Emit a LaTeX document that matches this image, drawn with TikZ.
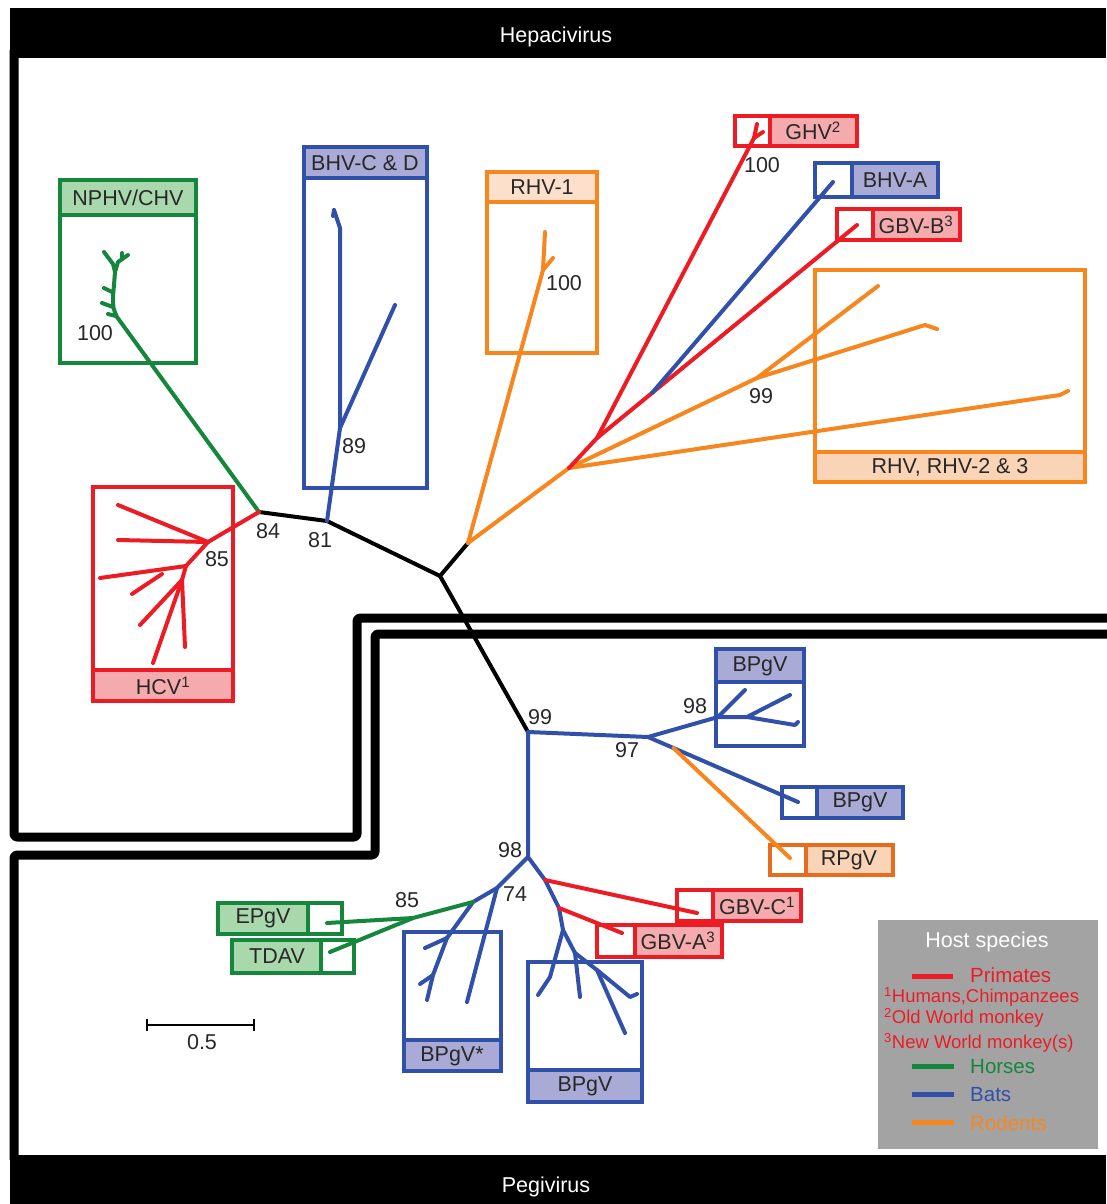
\documentclass[tikz,border=0pt]{standalone}
\usepackage{fontspec}
\setmainfont{Liberation Sans}
\usetikzlibrary{calc}
\definecolor{cR}{RGB}{237,28,36}
\definecolor{cG}{RGB}{20,135,60}
\definecolor{cB}{RGB}{48,80,170}
\definecolor{cO}{RGB}{247,134,31}
\definecolor{cOd}{RGB}{232,108,30}
\definecolor{fR}{RGB}{245,170,173}
\definecolor{fG}{RGB}{168,216,172}
\definecolor{fB}{RGB}{170,170,214}
\definecolor{fO}{RGB}{250,212,182}
\definecolor{fOl}{RGB}{252,224,204}
\definecolor{tx}{RGB}{40,40,40}
\definecolor{lg}{RGB}{163,163,163}
\tikzset{
  tr/.style={line width=4pt,line cap=round,line join=round},
  bx/.style={line width=3.5pt},
  fr/.style={line width=9pt,line join=round,rounded corners=3pt},
  lbl/.style={font=\fontsize{21.5}{24}\selectfont,text=tx,inner sep=0pt},
  ttl/.style={font=\fontsize{21.5}{24}\selectfont,text=white,inner sep=0pt},
  lgt/.style={font=\fontsize{20.5}{24}\selectfont,inner sep=0pt,anchor=west},
  lgs/.style={font=\fontsize{18.5}{22}\selectfont,inner sep=0pt,anchor=west,text=cR},
}
\begin{document}
\begin{tikzpicture}[x=1pt,y=-1pt]
\useasboundingbox (0,0) rectangle (1106,1204);
\fill[white] (0,0) rectangle (1106,1204);
% ---- frames
\fill[black] (10,8) rectangle (1106,58);
\node[ttl] (hep) at (556,37) {Hepacivirus};
\fill[black] (10,1155) rectangle (1106,1204);
\node[ttl] (peg) at (546,1187) {Pegivirus};
\draw[fr] (14,50) -- (14,837) -- (357,837) -- (357,618) -- (1112,618);
\draw[fr] (1112,634) -- (375,634) -- (375,855) -- (14,855) -- (14,1160);

% ---- boxes with header (top or bottom)
\fill[fG] (60,180) rectangle (196,215);
\draw[bx,cG] (60,180) rectangle (196,363);
\draw[bx,cG] (60,215) -- (196,215);
\node[lbl] (tNPHV) at (128,198) {NPHV/CHV};
\fill[fB] (304,147) rectangle (427,178);
\draw[bx,cB] (304,147) rectangle (427,488);
\draw[bx,cB] (304,178) -- (427,178);
\node[lbl] (tBHVCD) at (365,163) {BHV-C \& D};
\fill[fOl] (487,172) rectangle (597,202);
\draw[bx,cO] (487,172) rectangle (597,353);
\draw[bx,cO] (487,202) -- (597,202);
\node[lbl] (tRHV1) at (542,187) {RHV-1};
\fill[fR] (93,670) rectangle (233,701);
\draw[bx,cR] (93,487) rectangle (233,701);
\draw[bx,cR] (93,670) -- (233,670);
\node[lbl] (tHCV) at (163,686) {HCV\textsuperscript{1}};
\fill[fO] (815,452) rectangle (1085,482);
\draw[bx,cO] (815,270) rectangle (1085,482);
\draw[bx,cO] (815,452) -- (1085,452);
\node[lbl] (tRHV23) at (950,467) {RHV, RHV-2 \& 3};
\fill[fB] (716,649) rectangle (804,682);
\draw[bx,cB] (716,649) rectangle (804,746);
\draw[bx,cB] (716,682) -- (804,682);
\node[lbl] (tBP1) at (760,666) {BPgV};
\fill[fB] (404,1040) rectangle (501,1071);
\draw[bx,cB] (404,932) rectangle (501,1071);
\draw[bx,cB] (404,1040) -- (501,1040);
\node[lbl] (tBPs) at (452,1056) {BPgV*};
\fill[fB] (528,1070) rectangle (642,1102);
\draw[bx,cB] (528,962) rectangle (642,1102);
\draw[bx,cB] (528,1070) -- (642,1070);
\node[lbl] (tBP3) at (585,1086) {BPgV};

% ---- boxes with side label
\fill[fR] (770,116) rectangle (857,146);
\draw[bx,cR] (735,116) rectangle (857,146);
\draw[bx,cR] (770,116) -- (770,146);
\node[lbl] (tGHV) at (813,131) {GHV\textsuperscript{2}};
\fill[fB] (852,163) rectangle (938,197);
\draw[bx,cB] (815,163) rectangle (938,197);
\draw[bx,cB] (852,163) -- (852,197);
\node[lbl] (tBHVA) at (895,180) {BHV-A};
\fill[fR] (873,209) rectangle (960,240);
\draw[bx,cR] (837,209) rectangle (960,240);
\draw[bx,cR] (873,209) -- (873,240);
\node[lbl] (tGBVB) at (916,225) {GBV-B\textsuperscript{3}};
\fill[fB] (817,787) rectangle (903,818);
\draw[bx,cB] (782,787) rectangle (903,818);
\draw[bx,cB] (817,787) -- (817,818);
\node[lbl] (tBP2) at (860,802) {BPgV};
\fill[fO] (806,845) rectangle (893,875);
\draw[bx,cOd] (770,845) rectangle (893,875);
\draw[bx,cOd] (806,845) -- (806,875);
\node[lbl] (tRPgV) at (849,860) {RPgV};
\fill[fR] (713,890) rectangle (801,921);
\draw[bx,cR] (677,890) rectangle (801,921);
\draw[bx,cR] (713,890) -- (713,921);
\node[lbl] (tGBVC) at (757,906) {GBV-C\textsuperscript{1}};
\fill[fR] (635,925) rectangle (722,957);
\draw[bx,cR] (597,925) rectangle (722,957);
\draw[bx,cR] (635,925) -- (635,957);
\node[lbl] (tGBVA) at (678,941) {GBV-A\textsuperscript{3}};
\fill[fG] (218,903) rectangle (308,934);
\draw[bx,cG] (218,903) rectangle (342,934);
\draw[bx,cG] (308,903) -- (308,934);
\node[lbl] (tEPgV) at (263,918) {EPgV};
\fill[fG] (232,940) rectangle (321,973);
\draw[bx,cG] (232,940) rectangle (354,973);
\draw[bx,cG] (321,940) -- (321,973);
\node[lbl] (tTDAV) at (277,956) {TDAV};

% ---- tree coordinates: Hepacivirus
\coordinate (C) at (440,576);
\coordinate (Ch) at (468,543);
\coordinate (n81) at (327,521);
\coordinate (n84) at (259,512);
\coordinate (g1) at (117,317);
\coordinate (g2) at (113,296);
\coordinate (g3) at (115,272);
\coordinate (g4) at (113,264);
\coordinate (g5) at (104,252);
\coordinate (g6) at (118,262);
\coordinate (g7) at (128,255);
\coordinate (g8) at (122,259);
\coordinate (g9) at (122,253);
\coordinate (gt1) at (104,288);
\coordinate (gt1s) at (112,292);
\coordinate (gt2) at (102,303);
\coordinate (gt2s) at (113,307);
\coordinate (gt3) at (108,314);
\coordinate (gt3s) at (116,316);
\coordinate (h1) at (208,542);
\coordinate (h2) at (186,566);
\coordinate (h2b) at (162,574);
\coordinate (h3) at (182,580);
\coordinate (hA) at (118,505);
\coordinate (hB) at (118,540);
\coordinate (hC) at (100,578);
\coordinate (hD) at (132,594);
\coordinate (hE) at (140,625);
\coordinate (hF) at (185,647);
\coordinate (hG) at (153,663);
\coordinate (b89) at (340,428);
\coordinate (bv1) at (340,228);
\coordinate (bv2) at (334,210);
\coordinate (bv3) at (333,216);
\coordinate (bv4) at (395,305);
\coordinate (r1) at (543,270);
\coordinate (r2) at (545,232);
\coordinate (r3) at (553,258);
\coordinate (n0) at (569,468);
\coordinate (R1) at (597,438);
\coordinate (gh) at (754,138);
\coordinate (gh1) at (757,124);
\coordinate (gh2) at (763,132);
\coordinate (R2) at (652,393);
\coordinate (bA) at (833,182);
\coordinate (gB) at (857,225);
\coordinate (o99) at (757,378);
\coordinate (oa) at (878,286);
\coordinate (ob) at (925,325);
\coordinate (ob2) at (937,329);
\coordinate (oc) at (1060,395);
\coordinate (oc2) at (1068,391);

% ---- Pegivirus coordinates
\coordinate (p99) at (528,732);
\coordinate (p97) at (648,737);
\coordinate (p98) at (718,717);
\coordinate (pq) at (747,717);
\coordinate (pq1) at (745,690);
\coordinate (pq2) at (790,695);
\coordinate (pq3) at (795,725);
\coordinate (pq4) at (798,722);
\coordinate (bp2) at (798,802);
\coordinate (po) at ($(p97)!0.17!(bp2)$);
\coordinate (rp) at (790,858);
\coordinate (p98b) at (528,857);
\coordinate (n74) at (497,888);
\coordinate (gBr) at (473,902);
\coordinate (g85) at (413,918);
\coordinate (ep) at (327,923);
\coordinate (td) at (330,952);
\coordinate (s1) at (447,938);
\coordinate (s2) at (433,975);
\coordinate (s3) at (427,1000);
\coordinate (s4) at (425,948);
\coordinate (s5) at (420,984);
\coordinate (s6) at (467,1002);
\coordinate (bq) at (545,880);
\coordinate (bqq) at (559,908);
\coordinate (b1) at (563,930);
\coordinate (b2) at (575,953);
\coordinate (b3) at (597,970);
\coordinate (bt1) at (550,977);
\coordinate (bt2) at (538,995);
\coordinate (bt3) at (580,997);
\coordinate (bt4) at (625,1033);
\coordinate (bt5) at (630,997);
\coordinate (bt6) at (637,994);
\coordinate (gc) at (697,913);
\coordinate (ga) at (622,933);

% ---- tree edges
\draw[tr,black] (n84) -- (n81) -- (C) -- (Ch);
\draw[tr,black] (C) -- (p99);
\draw[tr,cG] (n84) -- (g1) .. controls (113,308) .. (g2) .. controls (114,285) .. (g3) -- (g4) -- (g5);
\draw[tr,cG] (g3) -- (g6) -- (g7);
\draw[tr,cG] (g8) -- (g9);
\draw[tr,cG] (gt1s) -- (gt1);
\draw[tr,cG] (gt2s) -- (gt2);
\draw[tr,cG] (gt3s) -- (gt3);
\draw[tr,cR] (n84) -- (h1) -- (h2) -- (h3);
\draw[tr,cR] (h1) -- (hA);
\draw[tr,cR] (h1) -- (hB);
\draw[tr,cR] (h2) -- (hC);
\draw[tr,cR] (h2b) -- (hD);
\draw[tr,cR] (h3) -- (hE);
\draw[tr,cR] (h3) -- (hF);
\draw[tr,cR] (h3) -- (hG);
\draw[tr,cB] (n81) -- (b89) -- (bv1) -- (bv2);
\draw[tr,cB] (bv3) -- (bv2);
\draw[tr,cB] (b89) -- (bv4);
\draw[tr,cO] (Ch) -- (r1) -- (r2);
\draw[tr,cO] (r1) -- (r3);
\draw[tr,cO] (Ch) -- (n0);
\draw[tr,cO] (n0) -- (o99) -- (oa);
\draw[tr,cO] (o99) -- (ob) -- (ob2);
\draw[tr,cO] (n0) -- (oc) -- (oc2);
\draw[tr,cR] (n0) -- (R1) -- (gh) -- (gh1);
\draw[tr,cR] (gh) -- (gh2);
\draw[tr,cR] (R1) -- (R2) -- (gB);
\draw[tr,cB] (R2) -- (bA);
\draw[tr,cB] (p99) -- (p97) -- (p98) -- (pq) -- (pq2);
\draw[tr,cB] (p98) -- (pq1);
\draw[tr,cB] (pq) -- (pq3) -- (pq4);
\draw[tr,cB] (p97) -- (bp2);
\draw[tr,cO] (po) -- (rp);
\draw[tr,cB] (p99) -- (p98b) -- (n74) -- (gBr) -- (s1) -- (s2) -- (s3);
\draw[tr,cB] (s1) -- (s4);
\draw[tr,cB] (s2) -- (s5);
\draw[tr,cB] (n74) -- (s6);
\draw[tr,cG] (gBr) -- (g85) -- (ep);
\draw[tr,cG] (g85) -- (td);
\draw[tr,cB] (p98b) -- (bq) -- (bqq) -- (b1) -- (bt1) -- (bt2);
\draw[tr,cB] (b1) -- (b2) -- (bt3);
\draw[tr,cB] (b2) -- (b3) -- (bt4);
\draw[tr,cB] (b3) -- (bt5) -- (bt6);
\draw[tr,cR] (bq) -- (gc);
\draw[tr,cR] (bqq) -- (ga);

% ---- bootstrap labels
\node[lbl] (l1) at (95,333) {100};
\node[lbl] (l2) at (268,531) {84};
\node[lbl] (l3) at (217,559) {85};
\node[lbl] (l4) at (320,540) {81};
\node[lbl] (l5) at (354,446) {89};
\node[lbl] (l6) at (564,283) {100};
\node[lbl] (l7) at (762,165) {100};
\node[lbl] (l8) at (761,396) {99};
\node[lbl] (l9) at (540,717) {99};
\node[lbl] (l10) at (695,706) {98};
\node[lbl] (l11) at (627,750) {97};
\node[lbl] (l12) at (510,850) {98};
\node[lbl] (l13) at (515,894) {74};
\node[lbl] (l14) at (407,900) {85};

% ---- scale bar
\coordinate (sbA) at (147,1025);
\coordinate (sbB) at (254,1025);
\draw[line width=2.5pt] (sbA) -- (sbB);
\draw[line width=2.5pt] ($(sbA)+(0,-6)$) -- ($(sbA)+(0,6)$);
\draw[line width=2.5pt] ($(sbB)+(0,-6)$) -- ($(sbB)+(0,6)$);
\node[lbl] (sbl) at (202,1042) {0.5};

% ---- legend
\fill[lg] (878,920) rectangle (1098,1149);
\node[ttl] (lt) at (987,942) {Host species};
\draw[line width=5pt,cR] (912,976) -- (953,976);
\node[lgt,text=cR] (lp) at (970,975) {Primates};
\node[lgs] (ls1) at (884,997) {\textsuperscript{1}Humans,Chimpanzees};
\node[lgs] (ls2) at (884,1018) {\textsuperscript{2}Old World monkey};
\node[lgs] (ls3) at (884,1043) {\textsuperscript{3}New World monkey(s)};
\draw[line width=5pt,cG] (912,1066) -- (954,1066);
\node[lgt,text=cG] (lh) at (970,1067) {Horses};
\draw[line width=5pt,cB] (912,1094) -- (954,1094);
\node[lgt,text=cB] (lb) at (970,1095) {Bats};
\draw[line width=5pt,cO] (912,1122) -- (954,1122);
\node[lgt,text=cO] (lr) at (970,1123) {Rodents};
\end{tikzpicture}
\end{document}
